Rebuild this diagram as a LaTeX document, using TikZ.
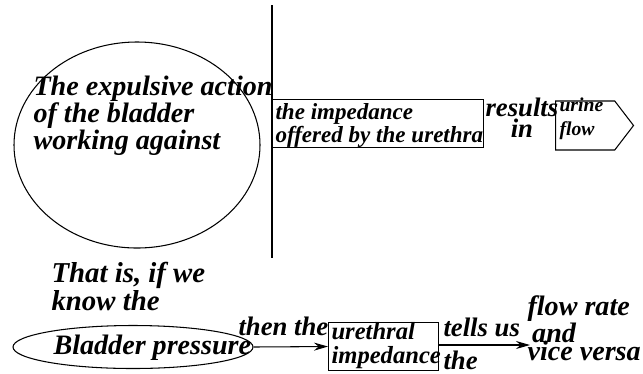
\documentclass[tikz,border=0pt]{standalone}
\usepackage{fontspec}
\setmainfont{Liberation Serif}
\usetikzlibrary{shapes.geometric,shapes.symbols,arrows.meta}

\tikzset{
  txt/.style={inner sep=0pt, align=left, anchor=base west},
  bigtxt/.style={txt, font=\bfseries\itshape\fontsize{20}{19.2}\selectfont},
  midtxt/.style={txt, font=\bfseries\itshape\fontsize{16.4}{15}\selectfont},
  smalltxt/.style={txt, font=\bfseries\itshape\fontsize{14}{16.4}\selectfont},
  lowtxt/.style={txt, font=\bfseries\itshape\fontsize{19}{16.4}\selectfont},
  oval/.style={draw, ellipse, inner sep=0pt},
  bx/.style={draw, rectangle, inner sep=0pt, anchor=north west},
  arr/.style={-{Stealth[length=3.5mm,width=2mm]}}
}

\begin{document}
\begin{tikzpicture}[x=0.25mm, y=-0.25mm, line width=0.75pt]
    \useasboundingbox (0,0) rectangle (643,373);

    % upper half
    \node [oval, minimum width=61.5mm, minimum height=51.5mm] (bladder) at (137,145) {};
    \node [bigtxt] (action) at (33,149) {The expulsive action\\ of the bladder\\ working against};
    \coordinate (divtop) at (272,5);
    \coordinate (divbot) at (272,258);
    \draw (divtop) -- (divbot);
    \node [bx, minimum width=52.75mm, minimum height=12mm] (imp) at (272,99) {};
    \node [midtxt] (imptxt) at (275,142) {the impedance\\offered by the urethra};
    \node [lowtxt, align=center, font=\bfseries\itshape\fontsize{19}{12}\selectfont] (res) at (485,137) {results\\in};
    \node [draw, signal, signal to=east, signal pointer angle=105, inner sep=0pt, anchor=west,
           minimum width=19.5mm, minimum height=12.25mm] (urine) at (555,125.5) {};
    \node [smalltxt] (urinetxt) at (559,135) {urine\\flow};

    % lower half
    \node [lowtxt, font=\bfseries\itshape\fontsize{20.5}{16.4}\selectfont] (know) at (51,310) {That is, if we\\know the};
    \node [oval, minimum width=60mm, minimum height=10.75mm] (bpoval) at (133,347) {};
    \node [bigtxt] (bp) at (53,354) {Bladder pressure};
    \node [lowtxt] (then) at (238,335) {then the};
    \node [bx, minimum width=27.5mm, minimum height=12mm] (urimp) at (328,322) {};
    \node [txt, font=\bfseries\itshape\fontsize{17.5}{16.4}\selectfont] (urimptxt) at (331,363) {urethral\\impedance};
    \node [lowtxt, font=\bfseries\itshape\fontsize{19}{22.8}\selectfont] (tells) at (443,369) {tells us\\the};
    \node [lowtxt, font=\bfseries\itshape\fontsize{20}{19.2}\selectfont] (flow) at (527,360) {flow rate\\ \,and\\[-6.4pt]vice versa};
    \coordinate (flowend) at (530,345);
    \draw [arr] (bpoval.east) -- (urimp.west);
    \draw [arr] (urimp.east |- flowend) -- (flowend);
\end{tikzpicture}
\end{document}
